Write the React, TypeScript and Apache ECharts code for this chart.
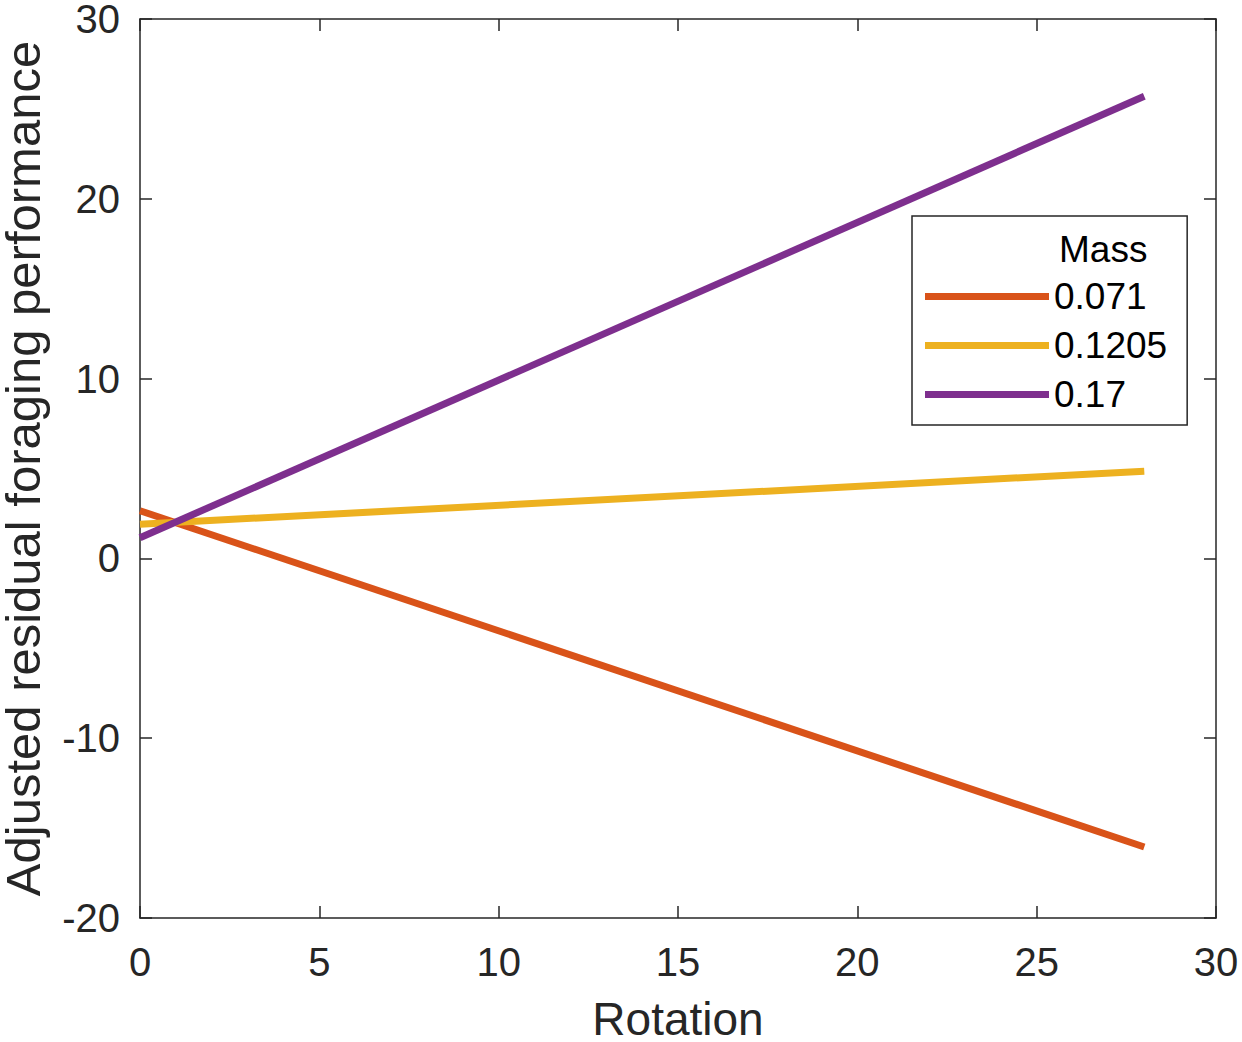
import React, { useEffect, useRef } from "react";
import * as echarts from "echarts";

const rotation = [0, 28];
const mass071 = [2.65, -16.05];
const mass1205 = [1.9, 4.85];
const mass017 = [1.15, 25.7];
const seriesNames = ["0.071", "0.1205", "0.17"];
const seriesColors = ["#D95319", "#EDB120", "#7E2F8E"];
const xTicks = { min: 0, max: 30, interval: 5 };
const yTicks = { min: -20, max: 30, interval: 10 };

const FONT = "'Liberation Sans', Arial, Helvetica, sans-serif";
const INK = "#262626";

export default function App() {
  const ref = useRef<HTMLDivElement>(null);
  useEffect(() => {
    if (!ref.current) return;
    const chart = echarts.init(ref.current, undefined, { renderer: "svg" });
    const values = [mass071, mass1205, mass017];
    const axisLine = { show: true, onZero: false, lineStyle: { color: INK, width: 1.5 } };
    const tick = { show: true, inside: true, length: 12, lineStyle: { color: INK, width: 1.5 } };
    chart.setOption({
      animation: false,
      backgroundColor: "#ffffff",
      grid: { left: 140, right: 26, top: 19, bottom: 124, containLabel: false, outerBoundsMode: "none" },
      xAxis: [
        {
          type: "value",
          position: "bottom",
          ...xTicks,
          axisLine,
          axisTick: tick,
          splitLine: { show: false },
          axisLabel: { color: INK, fontSize: 40, fontFamily: FONT, margin: 24 },
          name: "Rotation",
          nameLocation: "middle",
          nameGap: 78,
          nameTextStyle: { color: INK, fontSize: 46, fontFamily: FONT },
        },
        {
          type: "value",
          position: "top",
          ...xTicks,
          axisLine,
          axisTick: tick,
          splitLine: { show: false },
          axisLabel: { show: false },
        },
      ],
      yAxis: [
        {
          type: "value",
          position: "left",
          ...yTicks,
          axisLine,
          axisTick: tick,
          splitLine: { show: false },
          axisLabel: { color: INK, fontSize: 40, fontFamily: FONT, margin: 20 },
          name: "Adjusted residual foraging performance",
          nameLocation: "middle",
          nameGap: 93,
          nameTextStyle: { color: INK, fontSize: 49, fontFamily: FONT },
        },
        {
          type: "value",
          position: "right",
          ...yTicks,
          axisLine,
          axisTick: tick,
          splitLine: { show: false },
          axisLabel: { show: false },
        },
      ],
      legend: {
        orient: "vertical",
        left: 912,
        top: 216,
        padding: [56, 20, 6, 13],
        itemGap: 0,
        itemWidth: 124,
        itemHeight: 7,
        icon: "rect",
        borderColor: INK,
        borderWidth: 1.5,
        backgroundColor: "#ffffff",
        textStyle: { color: "#000000", fontSize: 37, fontFamily: FONT, lineHeight: 49 },
        data: seriesNames,
      },
      graphic: [
        {
          type: "text",
          x: 1059,
          y: 249,
          z: 100,
          style: {
            text: "Mass",
            fill: "#000000",
            fontSize: 37,
            fontFamily: FONT,
            align: "left",
            verticalAlign: "middle",
          },
        },
      ],
      series: seriesNames.map((name, i) => ({
        name,
        type: "line",
        xAxisIndex: 0,
        yAxisIndex: 0,
        showSymbol: false,
        symbol: "none",
        color: seriesColors[i],
        lineStyle: { width: 7, color: seriesColors[i] },
        data: rotation.map((x, j) => [x, values[i][j]]),
      })),
    });
    return () => chart.dispose();
  }, []);
  return (
    <div
      ref={ref}
      style={{ position: "fixed", left: 0, top: 0, width: 1242, height: 1042, background: "#fff" }}
    />
  );
}
